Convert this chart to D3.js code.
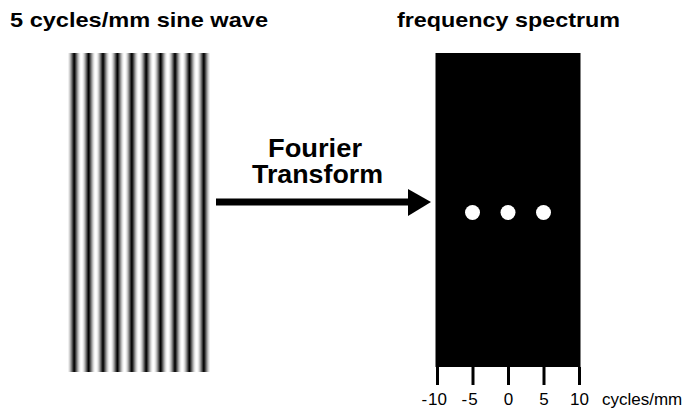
<!DOCTYPE html>
<html>
<head>
<meta charset="utf-8">
<script src="https://cdn.jsdelivr.net/npm/d3@7"></script>
<style>
  html, body { margin: 0; padding: 0; background: #fff; }
  svg { display: block; font-family: "Liberation Sans", Arial, sans-serif; }
</style>
</head>
<body>
<svg id="chart" width="697" height="411"></svg>
<script>
// ---- data ----
const titles = ["5 cycles/mm sine wave", "frequency spectrum"];
const arrowLabel = ["Fourier", "Transform"];
const waveFrequency = 5;            // cycles/mm
const waveExtent = [-1, 1];         // mm shown in the image
const spectrumFreqs = [-5, 0, 5];   // peaks in spectrum (cycles/mm)
const freqTicks = [-10, -5, 0, 5, 10];
const freqDomain = [-10, 10];
const axisUnit = "cycles/mm";

const svg = d3.select("#chart");

// ---- scales ----
const xWave = d3.scaleLinear().domain(waveExtent).range([67, 211]);
const yPanel = d3.scaleLinear().domain([-1, 1]).range([372, 53]);
const xFreq = d3.scaleLinear().domain(freqDomain).range([437, 579]);

// ---- titles ----
svg.append("text").attr("x", 10).attr("y", 27)
  .attr("font-size", 21).attr("font-weight", "bold")
  .attr("textLength", 258).attr("lengthAdjust", "spacingAndGlyphs")
  .text(titles[0]);
svg.append("text").attr("x", 397).attr("y", 27)
  .attr("font-size", 21).attr("font-weight", "bold")
  .attr("textLength", 223).attr("lengthAdjust", "spacingAndGlyphs")
  .text(titles[1]);

// ---- sine grating ----
const x0 = 68, x1 = 210;
const cols = d3.range(x0, x1);
const gray = d3.scaleLinear().domain([0, 1]).range([0, 255]);
svg.append("g").selectAll("rect").data(cols).join("rect")
  .attr("x", d => d).attr("y", yPanel(1))
  .attr("width", 1.02).attr("height", yPanel(-1) - yPanel(1))
  .attr("fill", d => {
    const mm = xWave.invert(d + 0.5);
    const v = Math.pow((1 + Math.cos(2 * Math.PI * waveFrequency * mm)) / 2, 0.6);
    const g = Math.round(gray(v));
    return `rgb(${g},${g},${g})`;
  });

// ---- arrow + label ----
svg.append("rect").attr("x", 216).attr("y", 198.5).attr("width", 194).attr("height", 7).attr("fill", "#000");
svg.append("path").attr("d", "M408,189 L431,202 L408,216 Z").attr("fill", "#000");
svg.append("text").attr("x", 268).attr("y", 157)
  .attr("font-size", 25).attr("font-weight", "bold")
  .attr("textLength", 94).attr("lengthAdjust", "spacingAndGlyphs")
  .text(arrowLabel[0]);
svg.append("text").attr("x", 252).attr("y", 183)
  .attr("font-size", 25).attr("font-weight", "bold")
  .attr("textLength", 131).attr("lengthAdjust", "spacingAndGlyphs")
  .text(arrowLabel[1]);

// ---- spectrum panel ----
const panelBottom = 367;
svg.append("rect").attr("x", xFreq(-10) - 1.5).attr("y", yPanel(1))
  .attr("width", xFreq(10) - xFreq(-10) + 3).attr("height", panelBottom - yPanel(1))
  .attr("fill", "#000");
svg.append("g").selectAll("circle").data(spectrumFreqs).join("circle")
  .attr("cx", d => xFreq(d)).attr("cy", yPanel(0)).attr("r", 7.5).attr("fill", "#fff");

// ---- frequency axis ----
const labelY = 38;
const labelSize = 17;
const axis = d3.axisBottom(xFreq).tickValues(freqTicks).tickSize(18).tickFormat(d => Math.abs(d));
const ag = svg.append("g").attr("transform", `translate(0,${panelBottom})`).call(axis);
ag.select(".domain").remove();
ag.selectAll(".tick line").attr("stroke", "#000").attr("stroke-width", 3);
ag.selectAll(".tick text").attr("font-size", labelSize).attr("fill", "#000")
  .attr("font-family", "Liberation Sans, Arial, sans-serif")
  .attr("y", labelY).attr("dy", 0)
  .each(function(d) {
    if (d < 0) {
      const w = this.getComputedTextLength();
      d3.select(this.parentNode).append("text")
        .attr("x", -w / 2 - 1).attr("y", labelY).attr("text-anchor", "end")
        .attr("font-size", labelSize).attr("fill", "#000")
        .attr("font-family", "Liberation Sans, Arial, sans-serif")
        .text("-");
    }
  });
ag.append("text").attr("x", 602).attr("y", labelY).attr("text-anchor", "start")
  .attr("font-size", labelSize).attr("fill", "#000")
  .attr("font-family", "Liberation Sans, Arial, sans-serif")
  .text(axisUnit);
</script>
</body>
</html>
